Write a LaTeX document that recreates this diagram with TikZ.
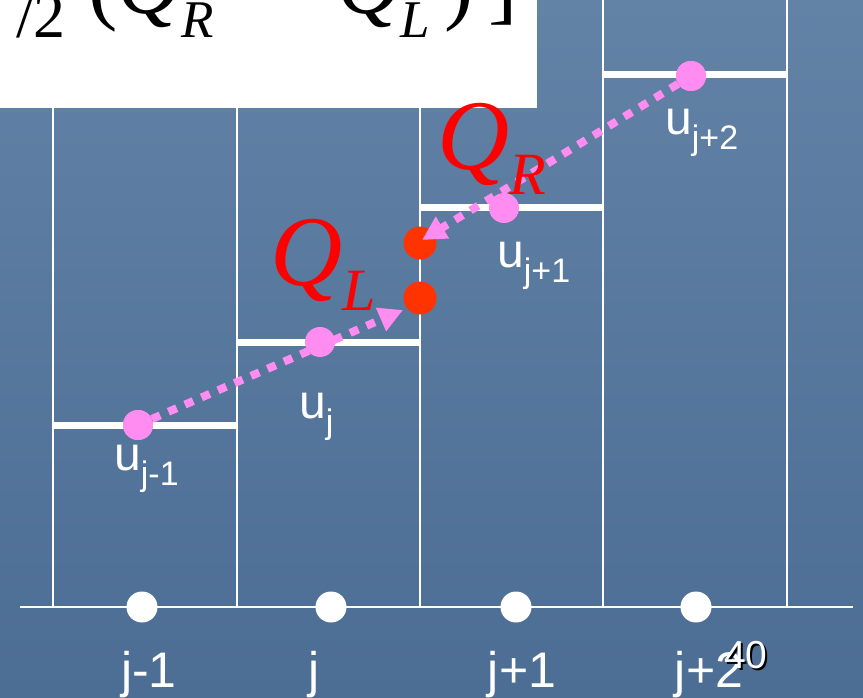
\documentclass[tikz,border=0pt]{standalone}
\usepackage{fontspec}
\setmainfont{Liberation Sans}
\newfontfamily\tnr{Liberation Serif}
\usetikzlibrary{arrows.meta,positioning}
\definecolor{bgtop}{RGB}{98,130,166}
\definecolor{bgbot}{RGB}{76,109,148}
\definecolor{upink}{RGB}{255,140,240}
\definecolor{qred}{RGB}{255,51,0}
\newcommand\setfs[1]{\fontsize{#1}{#1}\selectfont}
\newcommand\ulab[1]{u\raisebox{-15pt}{\setfs{34}#1}}
\newcommand\qsub[3]{\textit{#1}\raisebox{-#3}{\setfs{#2}\textit{#1}}}
\newcommand\qpair[4]{\textit{#1}\raisebox{-#4}{\setfs{#3}\textit{#2}}}

\begin{document}
\begin{tikzpicture}[x=1pt,y=-1pt,
  gridline/.style={white, line width=1.6pt},
  stepline/.style={white, line width=7pt},
  udot/.style={circle, fill=upink, inner sep=0pt, minimum size=30pt},
  qdot/.style={circle, fill=qred, inner sep=0pt, minimum size=33pt},
  jdot/.style={circle, fill=white, inner sep=0pt, minimum size=31pt},
  ulab/.style={white, anchor=base west, inner sep=0pt, font=\setfs{48}},
  jlab/.style={white, anchor=base, inner sep=0pt, font=\setfs{50}},
  qlab/.style={red, anchor=base west, inner sep=0pt, font=\tnr\setfs{100}},
  ftext/.style={black, anchor=base west, inner sep=0pt, font=\tnr\setfs{88}},
  arr/.style={upink, line width=8pt, dash pattern=on 9pt off 9pt, -{Triangle[length=24pt,width=24pt]}}
]
\useasboundingbox (0,0) rectangle (863,698);
\clip (0,0) rectangle (863,698);
\shade[top color=bgtop, bottom color=bgbot] (0,0) rectangle (863,698);

% cells and axis
\draw[gridline] (53,0) -- (53,607) (237,0) -- (237,607) (420,0) -- (420,607)
  (603,0) -- (603,607) (787,0) -- (787,607);
\draw[gridline] (20,607) -- (853,607);

% cell averages
\draw[stepline] (53,425) -- (237,425);
\draw[stepline] (237,342) -- (420,342);
\draw[stepline] (420,208) -- (603,208);
\draw[stepline] (603,75) -- (787,75);

% formula box, cut at the top
\fill[white] (0,0) rectangle (537,108);
\node[ftext, font=\tnr\setfs{64}] (fhalf) at (16,38) {/2};
\node[ftext] (fqr) at (88,14) {(\qpair{Q}{R}{53}{24pt}};
\node[ftext] (fql) at (337,14) {\qpair{Q}{L}{53}{24pt}\,)\,]};

% reconstructed values at the interface
\node[qdot] (qr) at (420,243) {};
\node[qdot] (ql) at (420,298) {};
\coordinate (tipl) at (403,310);
\coordinate (tipr) at (422,240);

\node[udot] (u0) at (138,425) {};
\node[udot] (u1) at (320,342) {};
\node[udot] (u2) at (504,208) {};
\node[udot] (u3) at (691,76) {};
\draw[arr] (u0) -- (tipl);
\draw[arr] (u3) -- (tipr);
\node[udot] at (u0) {};
\node[udot] at (u3) {};

\node[ulab] (lu0) at (114,470) {\ulab{j-1}};
\node[ulab] (lu1) at (299,418) {\ulab{j}};
\node[ulab] (lu2) at (497,268) {\ulab{j+1}};
\node[ulab] (lu3) at (665,135) {\ulab{j+2}};

\node[qlab] (lql) at (270,285) {\qpair{Q}{L}{60}{25pt}};
\node[qlab] (lqr) at (437,170) {\qpair{Q}{R}{60}{25pt}};

% cell centres
\node[jdot] (c0) at (142,607) {};
\node[jdot] (c1) at (331,607) {};
\node[jdot] (c2) at (516,607) {};
\node[jdot] (c3) at (696,607) {};
\node[jlab] (j0) at (149,687) {j-1};
\node[jlab] (j1) at (314,687) {j};
\node[jlab] (j2) at (522,687) {j+1};
\node[jlab] (j3) at (709,687) {j+2};

\node[jlab, black, font=\setfs{39}] (pgsh) at (748,670) {40};
\node[jlab, font=\setfs{39}] (pg) at (746,668) {40};
\end{tikzpicture}
\end{document}
